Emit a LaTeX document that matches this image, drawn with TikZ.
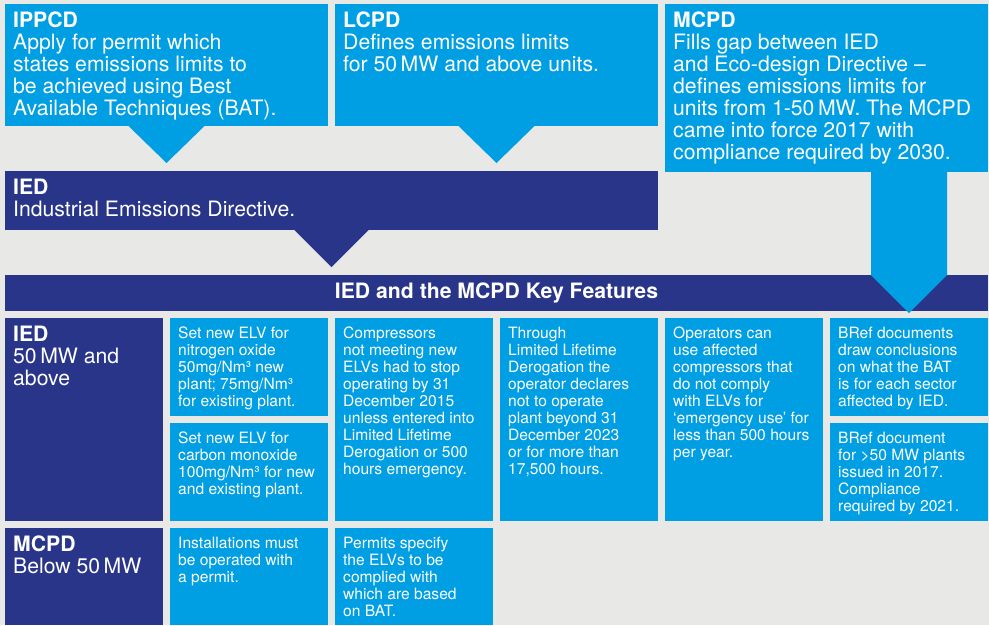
\documentclass[tikz,border=0pt]{standalone}
\usepackage{fontspec}
\setmainfont{TeX Gyre Heros}
\usepackage{xcolor}
\usepackage{tikz}
\usetikzlibrary{calc}
\definecolor{sky}{HTML}{009FE3}
\definecolor{navy}{HTML}{293589}
\definecolor{paper}{HTML}{E8E8E6}
\tikzset{
  box light/.style={
    fill=sky, inner sep=0pt, outer sep=0pt, anchor=north west,
  },
  box dark/.style={
    fill=navy, inner sep=0pt, outer sep=0pt, anchor=north west,
  },
  text big/.style={
    anchor=north west, align=left, text=white,
    inner xsep=8pt, inner ysep=7.5pt,
    font=\fontsize{21.2}{22}\selectfont,
  },
  text small/.style={
    anchor=north west, align=left, text=white,
    inner xsep=8pt, inner ysep=9pt,
    font=\fontsize{15.6}{17}\selectfont,
  }
}

\begin{document}
\begin{tikzpicture}[x=1pt,y=-1pt]
        \useasboundingbox (0,0) rectangle (989,625);
        \fill[paper] (0,0) rectangle (989,625);

        % directives
        \node[box light, minimum width=323, minimum height=122] (ippcd) at (5,4) {};
        \node[box light, minimum width=323, minimum height=122] (lcpd) at (335,4) {};
        \node[box light, minimum width=323, minimum height=168] (mcpd) at (665,4) {};
        \node[box dark, minimum width=653, minimum height=59] (ied) at (5,171) {};
        \node[box dark, minimum width=983, minimum height=36,
              text=white, font=\bfseries\fontsize{21.2}{22}\selectfont] (features) at (5,275)
              {IED and the MCPD Key Features};

        \node[text big] at (ippcd.north west) {\textbf{IPPCD}\\Apply for permit which\\states emissions limits to\\be achieved using Best\\Available Techniques (BAT).};
        \node[text big] at (lcpd.north west) {\textbf{LCPD}\\Defines emissions limits\\for 50\,MW and above units.};
        \node[text big] at (mcpd.north west) {\textbf{MCPD}\\Fills gap between IED\\and Eco-design Directive –\\defines emissions limits for\\units from 1-50\,MW. The MCPD\\came into force 2017 with\\compliance required by 2030.};
        \node[text big] at (ied.north west) {\textbf{IED}\\Industrial Emissions Directive.};

        % pointers
        \fill[sky] ($(ippcd.south)+(-38,0)$) -- ($(ippcd.south)+(38,0)$) -- ($(ippcd.south)+(0,37)$) -- cycle;
        \fill[sky] ($(lcpd.south)+(-38,0)$) -- ($(lcpd.south)+(38,0)$) -- ($(lcpd.south)+(0,37)$) -- cycle;
        \fill[navy] ($(ied.south)+(-37,0)$) -- ($(ied.south)+(37,0)$) -- ($(ied.south)+(0,37)$) -- cycle;
        \coordinate (stem left) at ($(mcpd.south east)+(-117,0)$);
        \coordinate (stem right) at ($(mcpd.south east)+(-41,0)$);
        \fill[sky] (stem left) -- (stem right) -- (stem right |- features.north) -- ++(-38,38)
              -- (stem left |- features.north) -- cycle;

        % key features
        \begin{scope}[minimum width=158]
            \node[box dark, minimum height=203] (iedrow) at (5,318) {};
            \node[box light, minimum height=98] (nox) at (170,318) {};
            \node[box light, minimum height=98] (co) at (170,423) {};
            \node[box light, minimum height=203] (compressors) at (335,318) {};
            \node[box light, minimum height=203] (derogation) at (500,318) {};
            \node[box light, minimum height=203] (emergency) at (665,318) {};
            \node[box light, minimum height=98] (bref) at (830,318) {};
            \node[box light, minimum height=98] (brefplants) at (830,423) {};

            \node[box dark, minimum height=97] (mcpdrow) at (5,528) {};
            \node[box light, minimum height=97] (install) at (170,528) {};
            \node[box light, minimum height=97] (permits) at (335,528) {};
        \end{scope}

        \node[text big] at (iedrow.north west) {\textbf{IED}\\50\,MW and\\above};
        \node[text big] at (mcpdrow.north west) {\textbf{MCPD}\\Below 50\,MW};

        \node[text small] at (nox.north west) {Set new ELV for\\nitrogen oxide\\50mg/Nm³ new\\plant; 75mg/Nm³\\for existing plant.};
        \node[text small] at (co.north west) {Set new ELV for\\carbon monoxide\\100mg/Nm³ for new\\and existing plant.};
        \node[text small] at (compressors.north west) {Compressors\\not meeting new\\ELVs had to stop\\operating by 31\\December 2015\\unless entered into\\Limited Lifetime\\Derogation or 500\\hours emergency.};
        \node[text small] at (derogation.north west) {Through\\Limited Lifetime\\Derogation the\\operator declares\\not to operate\\plant beyond 31\\December 2023\\or for more than\\17,500 hours.};
        \node[text small] at (emergency.north west) {Operators can\\use affected\\compressors that\\do not comply\\with ELVs for\\‘emergency use’ for\\less than 500 hours\\per year.};
        \node[text small] at (bref.north west) {BRef documents\\draw conclusions\\on what the BAT\\is for each sector\\affected by IED.};
        \node[text small] at (brefplants.north west) {BRef document\\for >50 MW plants\\issued in 2017.\\Compliance\\required by 2021.};
        \node[text small] at (install.north west) {Installations must\\be operated with\\a permit.};
        \node[text small] at (permits.north west) {Permits specify\\the ELVs to be\\complied with\\which are based\\on BAT.};
    \end{tikzpicture}
\end{document}
